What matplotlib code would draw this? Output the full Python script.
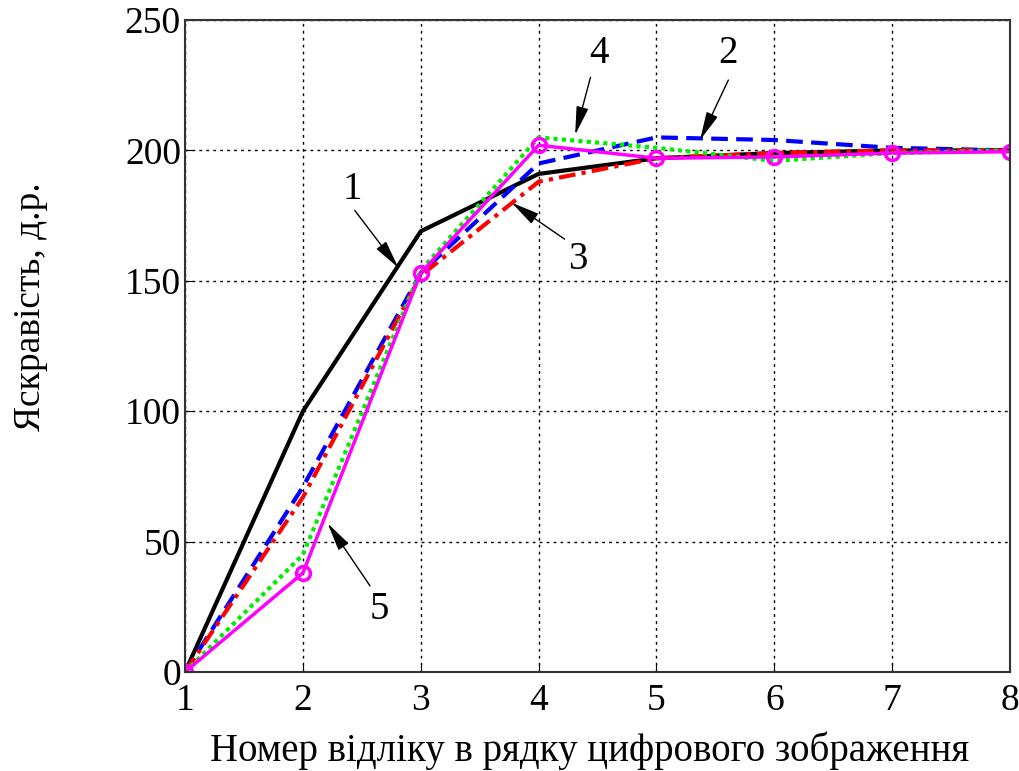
import matplotlib.pyplot as plt

# sample index along the image row
x = [1, 2, 3, 4, 5, 6, 7, 8]
# brightness curves 1..5
y1 = [0, 100, 169, 191, 197, 199, 200, 200]
y2 = [0, 71, 153, 195, 205, 204, 201, 200]
y3 = [0, 67, 152, 188, 197, 199, 200, 200]
y4 = [0, 45, 154, 205, 201, 196, 199, 200]
y5 = [0, 38, 153, 202, 197, 197.5, 199, 199.5]

labels = ['1', '2', '3', '4', '5']
label_xy = [(2.42, 185), (5.61, 237), (4.33, 158), (4.51, 237), (2.65, 24)]
tail_xy = [(2.44, 177), (5.61, 227), (4.22, 166), (4.44, 228), (2.57, 33)]
arrow_xy = [(2.81, 155), (5.37, 204), (3.77, 180), (4.31, 206), (2.21, 57)]

plt.rcParams['font.family'] = ['Liberation Serif', 'DejaVu Serif']

fig = plt.figure(figsize=(10.19, 7.71), dpi=100)
ax = fig.add_axes([0.1816, 0.1284, 0.8096, 0.8456])

ax.plot(x, y1, color='black', lw=3, ls='-')
ax.plot(x, y2, color='blue', lw=3, ls=(0, (4, 2)))
ax.plot(x, y3, color='red', lw=3, ls=(0, (4, 1.5, 1, 1.5)))
ax.plot(x, y4, color='#00ee00', lw=3, ls=(0, (1, 1)))
ax.plot(x, y5, color='magenta', lw=2.5, ls='-', marker='o', ms=10,
        mfc='none', mew=2.5)

for lab, txy, sxy, axy in zip(labels, label_xy, tail_xy, arrow_xy):
    ax.annotate('', xy=axy, xytext=sxy,
                arrowprops=dict(arrowstyle='-|>,head_width=0.15,head_length=0.7',
                                color='black', lw=1, mutation_scale=25,
                                shrinkA=0, shrinkB=0))
    ax.text(txy[0], txy[1], lab, fontsize=28, ha='center', va='center')

ax.set_xlim(1, 8)
ax.set_ylim(0, 250)
ax.set_xticks(x)
ax.set_yticks([0, 50, 100, 150, 200, 250])
ax.grid(True, color='black', ls=(0, (2, 3)), lw=1)
ax.tick_params(direction='in', labelsize=27, length=6)
ax.tick_params(axis='x', pad=8)
ax.tick_params(axis='y', pad=3)
for s in ax.spines.values():
    s.set_linewidth(1.5)
    s.set_color('#333333')

ax.set_xlabel('Номер відліку в рядку цифрового зображення', fontsize=28)
ax.set_ylabel('Яскравість, д.р.', fontsize=27)
ax.xaxis.set_label_coords(0.49, -0.092)
ax.yaxis.set_label_coords(-0.166, 0.56)

fig.savefig('out.png', dpi=100)
